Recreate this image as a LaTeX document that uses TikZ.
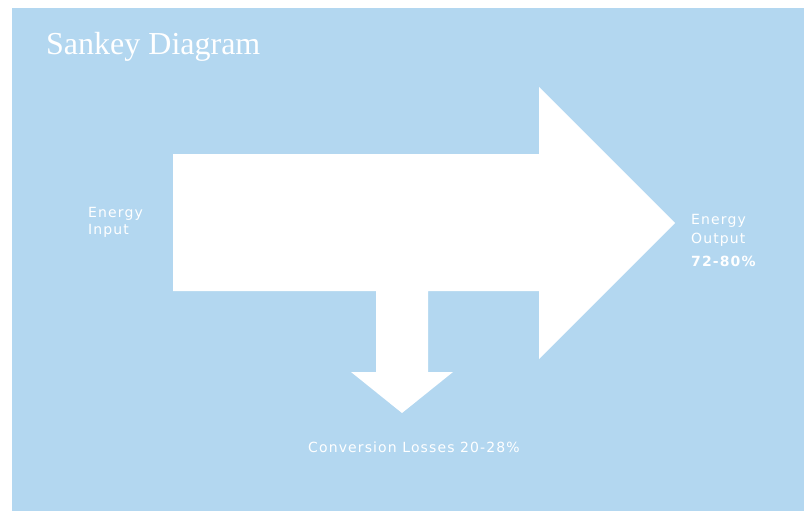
\documentclass[tikz,border=0pt]{standalone}
\usepackage{fontspec}
\setmainfont{Liberation Serif}
\newfontfamily\lblfont[LetterSpace=8]{DejaVu Sans}
\definecolor{bg}{RGB}{179,215,240}
\begin{document}
\begin{tikzpicture}[x=1pt,y=-1pt,
  titletext/.style={anchor=base west,inner sep=0pt,text=white,font=\fontsize{32}{32}\selectfont},
  lbl/.style={inner sep=0pt,text=white,font=\lblfont\fontsize{14}{17}\selectfont},
  flow/.style={fill=white}]
\useasboundingbox (0,0) rectangle (804,511);
\fill[white] (0,0) rectangle (804,511);
\fill[bg] (12,8) rectangle (804,511);
\fill[flow] (173,154) -- (539,154) -- (539,87) -- (675,223) -- (539,359) -- (539,291)
  -- (428,291) -- (428,372) -- (453,372) -- (402,413) -- (351,372) -- (376,372)
  -- (376,291) -- (173,291) -- cycle;
\node[titletext] (title) at (46,55) {Sankey Diagram};
\node[lbl,anchor=north west,align=left] (input) at (88,206.8) {Energy\\Input};
\node[lbl,anchor=north west,align=left] (output) at (691,213.8) {Energy\\[2pt]Output\\[6pt]\bfseries 72-80\%};
\node[lbl,anchor=base west] (losses) at (308,452) {Conversion Losses 20-28\%};
\end{tikzpicture}
\end{document}
